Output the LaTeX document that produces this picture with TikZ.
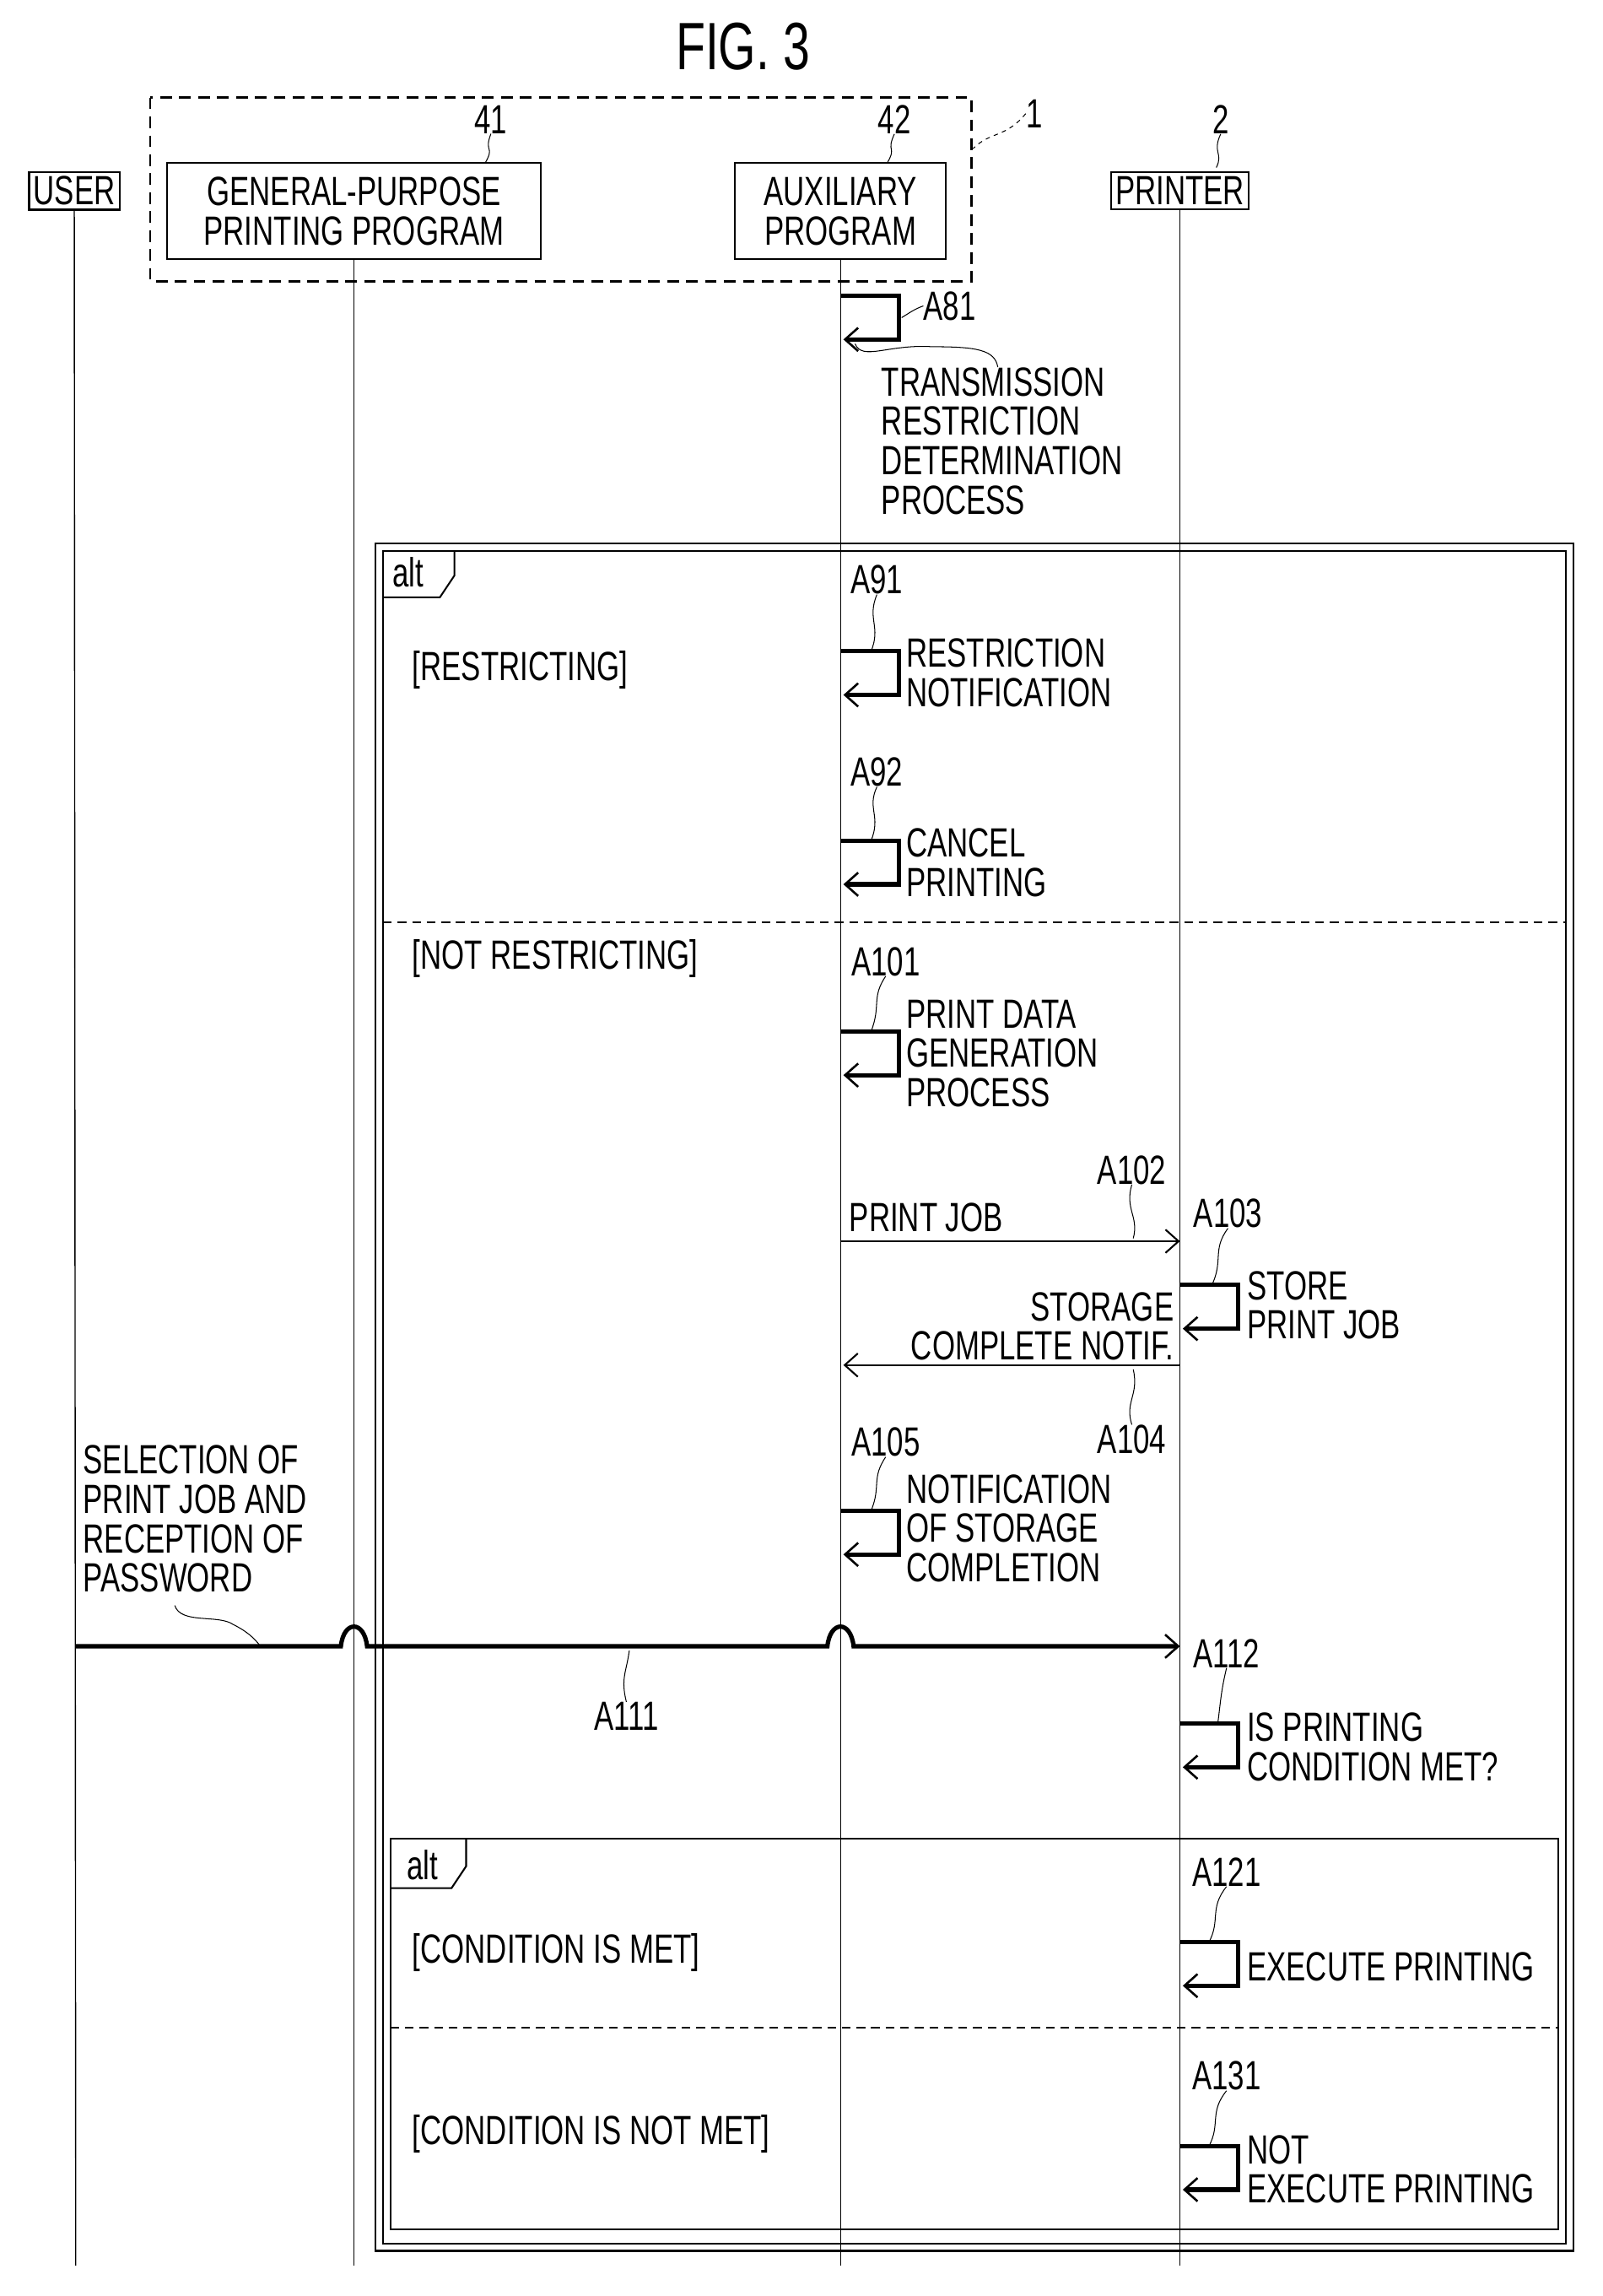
\documentclass[tikz,border=0pt]{standalone}
\usepackage{fontspec}
\setmainfont{Liberation Sans}[FakeStretch=0.72]
\usetikzlibrary{arrows.meta}

\tikzset{
  lbl/.style={font=\fontsize{28}{27}\selectfont, inner sep=0pt, align=left},
  actor/.style={draw, line width=1.2pt, font=\fontsize{28}{27}\selectfont, inner sep=3pt, align=center},
  life/.style={line width=0.8pt},
  msg/.style={line width=1.2pt, -{Straight Barb[length=9pt,width=16pt]}},
  selfmsg/.style={line width=3pt, -{Straight Barb[length=9pt,width=16pt,line width=1.5pt]}},
  lead/.style={line width=0.6pt},
  frame/.style={line width=1.2pt}
}
\newcommand\selfcall[2]{%
  \draw[selfmsg] (#1,#2) -- (#1+40,#2) -- (#1+40,#2+30) -- (#1+2,#2+30);}

\begin{document}
\begin{tikzpicture}[x=1pt,y=-1pt]
\useasboundingbox (0,0) rectangle (1100,1576);

% title
\node[lbl, font=\fontsize{46}{46}\selectfont] (title) at (510,32) {FIG. 3};

% lifeline heads
\draw[dashed, line width=1.5pt, dash pattern=on 8pt off 5pt] (103,67) rectangle (667,193);
\node[actor] (user) at (51,131) {USER};
\node[actor, minimum width=257pt, minimum height=66pt] (gpp) at (243,145) {GENERAL-PURPOSE\\PRINTING PROGRAM};
\node[actor, minimum width=145pt, minimum height=66pt] (aux) at (577,145) {AUXILIARY\\PROGRAM};
\node[actor] (prn) at (810,131) {PRINTER};
\node[lbl] (n41) at (337,82) {41};
\node[lbl] (n42) at (614,82) {42};
\node[lbl] (n2) at (838,82) {2};
\node[lbl] (n1) at (710,78) {1};
\draw[lead] (n41.south) .. controls (332,105) and (340,100) .. (333,112);
\draw[lead] (n42.south) .. controls (608,105) and (616,100) .. (609,112);
\draw[lead] (n2.south) .. controls (832,105) and (840,105) .. (835,115);
\draw[lead, dashed] (n1.west) .. controls (690,95) and (680,90) .. (668,102);

% lifelines
\coordinate (userend) at (52,1555);
\coordinate (gppend) at (243,1555);
\coordinate (auxend) at (577,1555);
\coordinate (prnend) at (810,1555);
\draw[life] (user.south) -- (userend);
\draw[life] (gpp.south) -- (gppend);
\draw[life] (aux.south) -- (auxend);
\draw[life] (prn.south) -- (prnend);

% A81
\selfcall{577}{203}
\node[lbl] (a81) at (652,210) {A81};
\draw[lead] (a81.west) .. controls (628,212) and (624,215) .. (619,218);
\node[lbl, anchor=north west] (trp) at (605,252) {TRANSMISSION\\RESTRICTION\\DETERMINATION\\PROCESS};
\draw[lead] (587,236) .. controls (592,248) and (610,236) .. (640,238) .. controls (670,238) and (683,240) .. (685,252);

% outer alt frame
\draw[frame] (258,373) rectangle (1080,1545);
\draw[frame] (263,378) -- (1075,378) -- (1075,1540) -- (263,1540) -- cycle;
\draw[frame] (263,410) -- (302,410) -- (312,395) -- (312,378);
\node[lbl] (alt1) at (280,393) {alt};
\draw[frame, dashed, dash pattern=on 6pt off 4pt] (263,633) -- (1075,633);
\node[lbl, anchor=west] (g1) at (283,460) {[RESTRICTING]};
\node[lbl, anchor=west] (g2) at (283,658) {[NOT RESTRICTING]};

% A91, A92
\node[lbl] (a91) at (602,398) {A91};
\draw[lead] (a91.south) .. controls (595,425) and (605,430) .. (598,447);
\selfcall{577}{447}
\node[lbl, anchor=west] (t91) at (622,462) {RESTRICTION\\NOTIFICATION};
\node[lbl] (a92) at (602,530) {A92};
\draw[lead] (a92.south) .. controls (595,555) and (605,560) .. (598,577);
\selfcall{577}{577}
\node[lbl, anchor=west] (t92) at (622,592) {CANCEL\\PRINTING};

% A101
\node[lbl] (a101) at (608,660) {A101};
\draw[lead] (a101.south) .. controls (598,685) and (605,690) .. (598,708);
\selfcall{577}{708}
\node[lbl, anchor=west] (t101) at (622,723) {PRINT DATA\\GENERATION\\PROCESS};

% A102 / A103 / A104
\coordinate (j102s) at (577,852);
\coordinate (j102e) at (810,852);
\draw[msg] (j102s) -- (j102e);
\node[lbl, anchor=south west] (t102) at (583,846) {PRINT JOB};
\node[lbl] (a102) at (777,803) {A102};
\draw[lead] (a102.south) .. controls (772,830) and (782,835) .. (778,850);
\node[lbl] (a103) at (843,833) {A103};
\draw[lead] (a103.south) .. controls (832,858) and (840,865) .. (832,882);
\selfcall{810}{882}
\node[lbl, anchor=west] (t103) at (856,896) {STORE\\PRINT JOB};
\coordinate (j104s) at (810,937);
\coordinate (j104e) at (579,937);
\draw[msg] (j104s) -- (j104e);
\node[lbl, anchor=south east, align=right] (t104) at (806,934) {STORAGE\\COMPLETE NOTIF.};
\node[lbl] (a104) at (777,988) {A104};
\draw[lead] (778,940) .. controls (782,958) and (772,962) .. (a104.north);

% A105
\node[lbl] (a105) at (608,990) {A105};
\draw[lead] (a105.south) .. controls (598,1015) and (605,1020) .. (598,1037);
\selfcall{577}{1037}
\node[lbl, anchor=north west] (t105) at (622,1012) {NOTIFICATION\\OF STORAGE\\COMPLETION};

% A111 with hops
\node[lbl, anchor=north west] (t111) at (57,992) {SELECTION OF\\PRINT JOB AND\\RECEPTION OF\\PASSWORD};
\coordinate (j111s) at (52,1130);
\coordinate (j111e) at (810,1130);
\draw[line width=3pt, -{Straight Barb[length=9pt,width=16pt,line width=1.5pt]}]
  (j111s) -- (234,1130) .. controls (236,1112) and (250,1112) .. (252,1130)
  -- (568,1130) .. controls (570,1112) and (584,1112) .. (586,1130) -- (j111e);
\draw[lead] (120,1102) .. controls (124,1115) and (150,1108) .. (160,1115) .. controls (170,1120) and (175,1125) .. (178,1129);
\node[lbl] (a111) at (430,1178) {A111};
\draw[lead] (432,1133) .. controls (430,1148) and (426,1152) .. (a111.north);
\node[lbl] (a112) at (842,1135) {A112};
\draw[lead] (a112.south) .. controls (838,1162) and (838,1168) .. (836,1183);
\selfcall{810}{1183}
\node[lbl, anchor=west] (t112) at (856,1199) {IS PRINTING\\CONDITION MET?};

% inner alt frame
\draw[frame] (268,1262) rectangle (1070,1530);
\draw[frame] (268,1296) -- (310,1296) -- (320,1281) -- (320,1262);
\node[lbl] (alt2) at (290,1280) {alt};
\draw[frame, dashed, dash pattern=on 6pt off 4pt] (268,1392) -- (1070,1392);
\node[lbl, anchor=west] (g3) at (283,1340) {[CONDITION IS MET]};
\node[lbl, anchor=west] (g4) at (283,1465) {[CONDITION IS NOT MET]};

% A121, A131
\node[lbl] (a121) at (842,1285) {A121};
\draw[lead] (a121.south) .. controls (830,1310) and (838,1318) .. (830,1333);
\selfcall{810}{1333}
\node[lbl, anchor=west] (t121) at (856,1350) {EXECUTE PRINTING};
\node[lbl] (a131) at (842,1425) {A131};
\draw[lead] (a131.south) .. controls (830,1450) and (838,1458) .. (830,1473);
\selfcall{810}{1473}
\node[lbl, anchor=west] (t131) at (856,1489) {NOT\\EXECUTE PRINTING};
\end{tikzpicture}
\end{document}
